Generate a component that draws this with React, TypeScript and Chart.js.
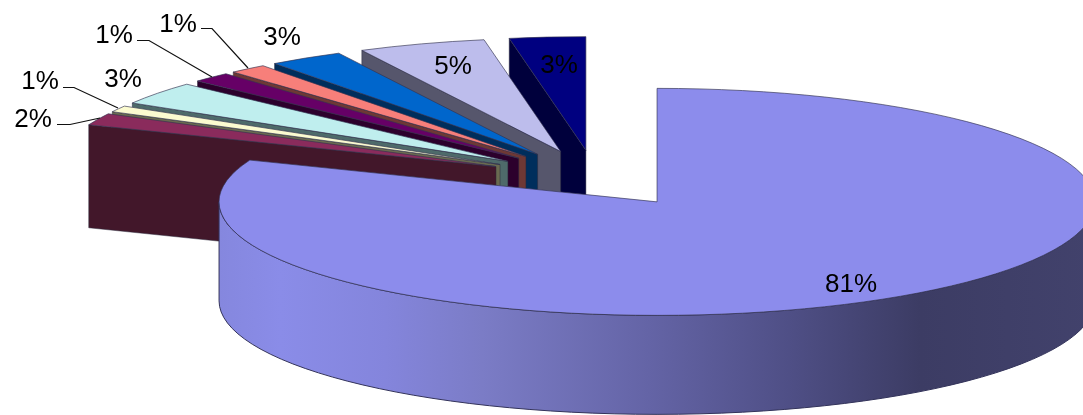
import React, { useEffect, useRef } from "react";
import { Chart, registerables } from "chart.js";

Chart.register(...registerables);

// ---- data ----
const sliceNames = ["Slice 1", "Slice 2", "Slice 3", "Slice 4", "Slice 5", "Slice 6", "Slice 7", "Slice 8", "Slice 9"];
const sliceValues = [81, 1.7, 0.9, 3.3, 1.45, 1.4, 2.75, 4.7, 2.8];
const percentLabels = ["81%", "2%", "1%", "3%", "1%", "1%", "3%", "5%", "3%"];

// ---- styles ----
const topColors = ["#8c8cec", "#8a2b5c", "#fbfbd0", "#bfeeee", "#660066", "#f77f7a", "#0066cc", "#bdbdec", "#000080"];
const cutColors = ["#5a5a98", "#42172a", "#6a6a50", "#4e6a6a", "#2c002c", "#6e3835", "#002e5c", "#56566c", "#00003c"];

// ---- 3D projection layout ----
const CENTER_X = 595.5;
const CENTER_Y = 178.4;
const RADIUS_X = 438;
const RADIUS_Y = 113.5;
const EXPLODE = 0.25;
const DEPTH = 99;
const CUT_DEPTH = 103;
const LABEL_FONT = '26px "Liberation Sans", Arial, sans-serif';

const labelAnchors: [number, number][] = [
  [851, 284.5], [33, 119.5], [40, 81.5], [123, 79.5], [114, 35.5], [178, 24.5], [282, 37.5], [453, 66.5], [559, 65.5],
];
const leaderLines: ([number, number][] | null)[] = [
  null,
  [[57, 124.5], [70, 124.5], [100, 118]],
  [[63, 87.5], [74, 87.5], [118, 108]],
  null,
  [[137, 40.5], [149, 40.5], [212, 77]],
  [[201, 28.5], [212, 28.5], [248, 68]],
  null, null, null,
];

const pie3d = {
  id: "pie3d",
  beforeDatasetsDraw(chart: any) {
    const ctx: CanvasRenderingContext2D = chart.ctx;
    const arcs: any[] = chart.getDatasetMeta(0).data;
    const order = arcs.map((_, i) => i).slice(1).reverse().concat(0);

    for (const i of order) {
      const arc = arcs[i];
      const a0: number = arc.startAngle;
      const a1: number = arc.endAngle;
      const mid = (a0 + a1) / 2;
      const ax = CENTER_X + EXPLODE * RADIUS_X * Math.cos(mid);
      const ay = CENTER_Y + EXPLODE * RADIUS_Y * Math.sin(mid);
      const edge = (a: number): [number, number] => [ax + RADIUS_X * Math.cos(a), ay + RADIUS_Y * Math.sin(a)];

      const drawCut = (a: number) => {
        const [ex, ey] = edge(a);
        ctx.beginPath();
        ctx.moveTo(ax, ay);
        ctx.lineTo(ex, ey);
        ctx.lineTo(ex, ey + CUT_DEPTH);
        ctx.lineTo(ax, ay + CUT_DEPTH);
        ctx.closePath();
        ctx.fillStyle = cutColors[i];
        ctx.fill();
        ctx.strokeStyle = "rgba(40,40,60,0.6)";
        ctx.lineWidth = 0.8;
        ctx.stroke();
      };
      if (Math.cos(a1) > 1e-6) drawCut(a1);
      if (Math.cos(a0) < -1e-6) drawCut(a0);

      // outer wall, only the part that faces the viewer
      const s = Math.max(a0, 0);
      const e = Math.min(a1, Math.PI);
      if (e > s) {
        const g = ctx.createLinearGradient(219, 0, 1095, 0);
        g.addColorStop(0, "#8587de");
        g.addColorStop(0.07, "#8a8ce8");
        g.addColorStop(0.19, "#8485dc");
        g.addColorStop(0.3, "#7b7cc6");
        g.addColorStop(0.49, "#6464a6");
        g.addColorStop(0.65, "#4f4f86");
        g.addColorStop(0.8, "#3c3c64");
        g.addColorStop(1, "#42426c");
        ctx.beginPath();
        ctx.ellipse(ax, ay, RADIUS_X, RADIUS_Y, 0, s, e);
        ctx.ellipse(ax, ay + DEPTH, RADIUS_X, RADIUS_Y, 0, e, s, true);
        ctx.closePath();
        ctx.fillStyle = g;
        ctx.fill();
        ctx.strokeStyle = "#33335a";
        ctx.lineWidth = 1;
        ctx.stroke();
      }

      // top face: the library's own arc, squashed into the perspective plane
      ctx.save();
      ctx.translate(ax, ay);
      ctx.scale(RADIUS_X / arc.outerRadius, RADIUS_Y / arc.outerRadius);
      ctx.translate(-arc.x, -arc.y);
      arc.draw(ctx);
      ctx.restore();

      ctx.beginPath();
      ctx.moveTo(ax, ay);
      ctx.ellipse(ax, ay, RADIUS_X, RADIUS_Y, 0, a0, a1);
      ctx.closePath();
      ctx.strokeStyle = "rgba(50,50,80,0.65)";
      ctx.lineWidth = 1;
      ctx.stroke();
    }
    return false;
  },
  afterDraw(chart: any) {
    const ctx: CanvasRenderingContext2D = chart.ctx;
    ctx.save();
    ctx.strokeStyle = "#111";
    ctx.lineWidth = 1.2;
    leaderLines.forEach((line) => {
      if (!line) return;
      ctx.beginPath();
      line.forEach(([x, y], k) => (k ? ctx.lineTo(x, y) : ctx.moveTo(x, y)));
      ctx.stroke();
    });
    ctx.fillStyle = "#000";
    ctx.font = LABEL_FONT;
    ctx.textAlign = "center";
    ctx.textBaseline = "middle";
    percentLabels.forEach((t, i) => ctx.fillText(t, labelAnchors[i][0], labelAnchors[i][1]));
    ctx.restore();
  },
};

export default function App() {
  const ref = useRef<HTMLCanvasElement>(null);
  useEffect(() => {
    document.body.style.margin = "0";
    document.body.style.background = "#fff";
    const chart = new Chart(ref.current as HTMLCanvasElement, {
      type: "pie",
      data: {
        labels: sliceNames,
        datasets: [{ data: sliceValues, backgroundColor: topColors, borderWidth: 0 }],
      },
      options: {
        animation: false,
        responsive: false,
        devicePixelRatio: 1,
        plugins: { legend: { display: false }, tooltip: { enabled: false } },
      },
      plugins: [pie3d],
    } as any);
    return () => chart.destroy();
  }, []);
  return <canvas ref={ref} width={1083} height={415} style={{ display: "block" }} />;
}
